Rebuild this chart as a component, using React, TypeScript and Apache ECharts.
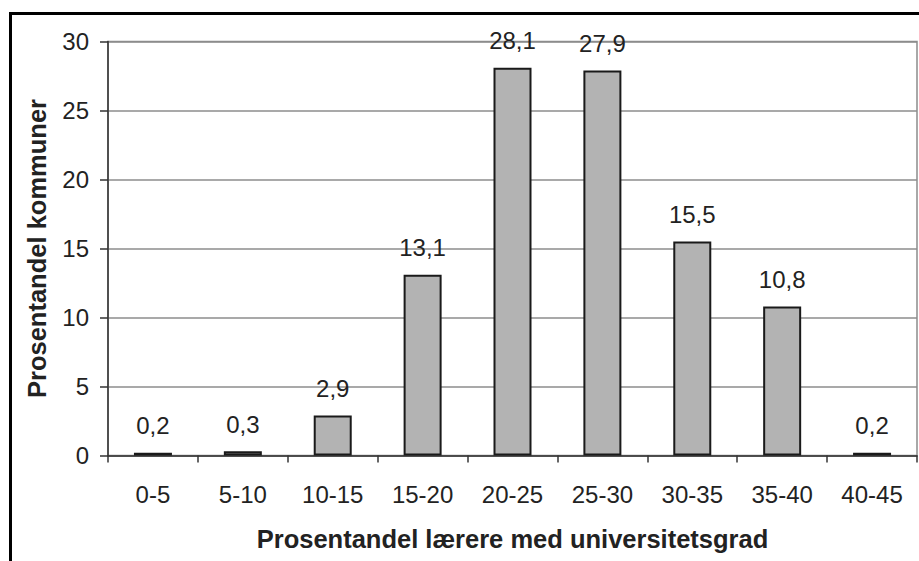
import React, { useEffect, useRef } from "react";
import * as echarts from "echarts";

const categories = ["0-5", "5-10", "10-15", "15-20", "20-25", "25-30", "30-35", "35-40", "40-45"];
const values = [0.2, 0.3, 2.9, 13.1, 28.1, 27.9, 15.5, 10.8, 0.2];
const xTitle = "Prosentandel lærere med universitetsgrad";
const yTitle = "Prosentandel kommuner";

export default function App() {
  const ref = useRef<HTMLDivElement>(null);
  useEffect(() => {
    if (!ref.current) return;
    const chart = echarts.init(ref.current, null, { renderer: "svg" });
    const font = "'Liberation Sans', Arial, sans-serif";
    chart.setOption({
      animation: false,
      backgroundColor: "#ffffff",
      textStyle: { fontFamily: font },
      grid: {
        left: 108,
        top: 41.5,
        width: 809,
        height: 414,
        show: true,
        borderColor: "#8c8c8c",
        borderWidth: 1.5,
        containLabel: false,
      },
      xAxis: {
        type: "category",
        data: categories,
        axisLine: { lineStyle: { color: "#333", width: 1.5 } },
        axisTick: { show: true, length: 7, lineStyle: { color: "#333", width: 1.5 } },
        axisLabel: { fontSize: 24, color: "#222", margin: 27, fontFamily: font },
        name: xTitle,
        nameLocation: "middle",
        nameGap: 70,
        nameTextStyle: { fontSize: 25.5, fontWeight: "bold", color: "#222", fontFamily: font },
      },
      yAxis: {
        type: "value",
        min: 0,
        max: 30,
        interval: 5,
        axisLine: { show: true, lineStyle: { color: "#333", width: 1.5 } },
        axisTick: { show: true, length: 8, lineStyle: { color: "#333", width: 1.5 } },
        axisLabel: { fontSize: 24, color: "#222", margin: 19, fontFamily: font },
        splitLine: { show: true, lineStyle: { color: "#8c8c8c", width: 1.5 } },
        name: yTitle,
        nameLocation: "middle",
        nameGap: 58,
        nameRotate: 90,
        nameTextStyle: { fontSize: 25.5, fontWeight: "bold", color: "#222", fontFamily: font },
      },
      series: [
        {
          type: "bar",
          data: values,
          barWidth: 38,
          itemStyle: { color: "#b3b3b3", borderColor: "#1a1a1a", borderWidth: 2 },
          label: {
            show: true,
            position: "top",
            distance: 15,
            fontSize: 24,
            color: "#222",
            fontFamily: font,
            formatter: (p: any) => String(p.value).replace(".", ","),
          },
        },
      ],
      graphic: [
        {
          type: "line",
          shape: { x1: 9, y1: 13.5, x2: 919, y2: 13.5 },
          style: { stroke: "#000", lineWidth: 3 },
        },
        {
          type: "line",
          shape: { x1: 10.5, y1: 12, x2: 10.5, y2: 561 },
          style: { stroke: "#000", lineWidth: 3 },
        },
      ],
    });
    return () => chart.dispose();
  }, []);
  return (
    <div
      ref={ref}
      style={{ position: "fixed", left: 0, top: 0, width: 919, height: 561, background: "#fff" }}
    />
  );
}
